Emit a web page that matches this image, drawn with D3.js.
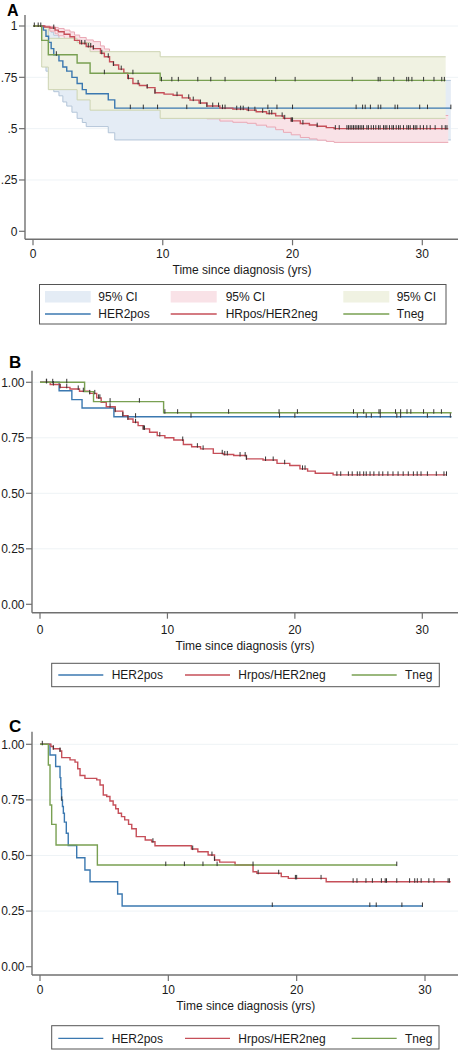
<!DOCTYPE html>
<html><head><meta charset="utf-8">
<script src="https://cdn.jsdelivr.net/npm/d3@7"></script>
<style>
body{margin:0;background:#fff}
svg{display:block}
text{font-family:"Liberation Sans",Arial,Helvetica,sans-serif;fill:#1a1a1a}
</style>
</head><body>
<svg id="chart" width="458" height="1050"></svg>
<script>
// ---------------- DATA ----------------
const xTicks = [0, 10, 20, 30];
const yTicks = [0, 0.25, 0.5, 0.75, 1];
const axisTitle = "Time since diagnosis (yrs)";
const legendA = ["HER2pos", "HRpos/HER2neg", "Tneg"];
const legendBC = ["HER2pos", "Hrpos/HER2neg", "Tneg"];
const ciLabel = "95% CI";

// Panel A - HER2pos
const aHer2Time = [0,0.8,1.0,1.2,1.4,1.6,2.0,2.3,2.6,3.0,3.4,3.8,4.1,5.8,6.3];
const aHer2Surv = [1,0.98,0.95,0.92,0.89,0.86,0.83,0.80,0.78,0.75,0.72,0.69,0.67,0.64,0.60];
const aHer2Lo   = [1,0.86,0.78,0.74,0.71,0.68,0.66,0.63,0.61,0.58,0.55,0.53,0.51,0.48,0.445];
const aHer2Hi   = [1,1,0.995,0.985,0.97,0.955,0.94,0.92,0.905,0.885,0.86,0.84,0.82,0.79,0.735];
const aHer2End = 32.2;
const aHer2Cens = [7.5,8.5,9.6,11.85,18.1,18.8,20.0,24.9,25.4,25.6,26.0,26.6,26.8,27.9,28.1,29.8,30.4,32.2];

// Panel A - HRpos/HER2neg
const aHrTime = [0,0.9,1.3,1.7,1.95,2.4,2.85,3.2,3.6,4.1,4.65,5.2,5.5,5.9,6.2,6.6,7.0,7.3,7.7,8.2,8.8,9.4,10.1,10.8,11.5,12.1,12.8,13.4,14.4,15.4,16.5,17.2,18.0,18.7,19.3,19.9,20.6,21.3,21.9,22.6,23.2];
const aHrSurv = [1,0.995,0.99,0.98,0.972,0.96,0.948,0.93,0.915,0.90,0.89,0.867,0.85,0.826,0.81,0.79,0.77,0.745,0.72,0.71,0.70,0.675,0.668,0.663,0.65,0.639,0.625,0.61,0.60,0.595,0.59,0.582,0.574,0.562,0.55,0.538,0.525,0.518,0.512,0.505,0.50];
const aHrLo = [1,0.985,0.975,0.962,0.952,0.936,0.921,0.9,0.882,0.865,0.852,0.826,0.807,0.78,0.762,0.741,0.719,0.692,0.666,0.655,0.643,0.617,0.61,0.604,0.59,0.578,0.563,0.548,0.537,0.531,0.526,0.517,0.508,0.495,0.482,0.47,0.457,0.45,0.444,0.438,0.433];
const aHrHi = [1,1,0.998,0.993,0.988,0.98,0.971,0.956,0.944,0.932,0.924,0.903,0.888,0.867,0.853,0.835,0.817,0.794,0.771,0.761,0.751,0.728,0.721,0.716,0.704,0.693,0.68,0.666,0.656,0.652,0.647,0.64,0.632,0.621,0.61,0.599,0.587,0.58,0.575,0.568,0.564];
const aHrEnd = 32.0;
const aHrCens = [0.1,0.4,0.6,1.6,3.75,4.0,4.26,4.45,4.65,5.3,5.8,6.2,6.8,7.35,8.1,8.8,9.4,11.1,12.0,12.35,12.9,13.4,13.85,14.3,14.6,14.8,15.7,16.0,16.2,16.6,17.1,17.7,18.2,18.4,19.2,19.4,19.9,20.0,20.8,21.9,23.3,23.6,24.19,24.31,24.44,24.57,24.7,24.83,24.96,25.08,25.21,25.34,25.47,25.73,25.85,26.06,26.24,26.42,26.62,26.75,27.01,27.14,27.27,27.47,27.66,27.78,27.99,28.17,28.3,28.55,28.81,28.94,29.07,29.32,29.45,29.58,29.84,30.09,30.35,30.61,30.99,31.51,31.77,31.9];

// Panel A - Tneg
const aTnTime = [0,0.67,1.18,3.4,4.4,9.8];
const aTnSurv = [1,0.93,0.86,0.82,0.77,0.735];
const aTnLo   = [1,0.80,0.69,0.64,0.59,0.55];
const aTnHi   = [1,0.995,0.94,0.92,0.875,0.85];
const aTnEnd = 31.8;
const aTnCens = [1.8,5.5,7.7,9.9,10.7,11.2,12.7,13.7,14.8,18.7,20.2,24.6,26.6,26.75,27.8,28.8,28.95,29.2,30.1,30.9,31.5,31.7];

// Panel B
const bHer2Time = [0,1.5,2.5,3.3,5.8];
const bHer2Surv = [1,0.962,0.922,0.884,0.845];
const bHer2End = 32.3;
const bHer2Cens = [7.5,11.85,18.8,20.0,24.9,25.6,26.0,26.7,28.0,28.3,30.4,32.2];

const bHrTime = [0,0.8,1.57,2.35,3.1,3.9,4.45,4.8,5.2,5.9,6.5,6.9,7.3,7.7,8.1,8.6,9.2,9.8,10.5,11.25,11.9,12.6,13.6,14.4,15.2,16.2,17.5,18.6,19.6,20.4,21.0,21.6,23.0];
const bHrSurv = [1,0.99,0.977,0.97,0.96,0.95,0.93,0.91,0.89,0.87,0.85,0.835,0.82,0.805,0.79,0.775,0.76,0.75,0.74,0.72,0.71,0.70,0.68,0.675,0.67,0.655,0.65,0.635,0.625,0.61,0.60,0.59,0.583];
const bHrEnd = 31.9;
const bHrCens = [0.52,1.05,1.57,2.1,3.0,3.4,3.9,4.3,4.6,4.7,5.5,5.9,6.5,6.9,7.5,8.1,8.2,9.4,11.2,12.35,12.8,14.3,14.5,14.7,15.7,16.1,16.2,17.7,18.3,19.2,20.6,20.8,23.3,23.6,24.2,24.5,24.9,25.1,25.4,25.6,25.9,26.2,26.6,26.9,27.3,27.7,28.1,28.5,28.9,29.3,29.6,29.9,30.4,31.1,31.7,31.9];

const bTnTime = [0,3.5,4.2,9.7];
const bTnSurv = [1,0.958,0.913,0.863];
const bTnEnd = 32.3;
const bTnCens = [0.5,1.0,2.1,5.5,7.8,9.8,10.8,14.8,18.76,20.2,24.6,25.4,26.6,26.7,27.9,28.3,28.8,29.1,30.1,30.9,31.5];

// Panel C
const cHer2Time = [0,0.78,1.22,1.56,1.62,1.68,1.75,1.82,1.9,2.05,2.2,2.86,3.5,3.9,6.05,6.4];
const cHer2Surv = [1,0.952,0.9,0.85,0.80,0.75,0.72,0.69,0.65,0.60,0.545,0.49,0.435,0.382,0.327,0.273];
const cHer2End = 29.8;
const cHer2Cens = [1.7,18.1,25.7,26.2,28.2,29.8];

const cHrTime = [0,0.85,1.04,1.56,1.69,2.34,2.73,2.94,3.12,3.5,4.42,4.68,4.93,5.2,5.45,5.7,5.9,6.1,6.35,6.6,6.9,7.15,7.5,8.2,8.7,8.96,11.8,12.3,13.1,13.6,14.0,15.2,16.6,16.9,18.8,19.35,22.3];
const cHrSurv = [1,0.99,0.98,0.97,0.94,0.93,0.92,0.89,0.86,0.847,0.84,0.817,0.772,0.765,0.745,0.727,0.71,0.69,0.675,0.66,0.64,0.62,0.585,0.57,0.562,0.544,0.529,0.517,0.502,0.48,0.47,0.457,0.427,0.42,0.405,0.397,0.382];
const cHrEnd = 32.0;
const cHrCens = [0.18,1.04,1.56,8.8,11.9,13.4,13.6,17.0,18.6,19.9,20.0,21.9,24.4,24.7,25.4,25.9,26.6,26.9,27.0,27.8,28.8,29.2,29.4,29.7,30.3,30.7,31.8,31.9];

const cTnTime = [0,0.65,0.78,0.91,1.25,4.47];
const cTnSurv = [1,0.907,0.727,0.64,0.547,0.457];
const cTnEnd = 27.8;
const cTnCens = [9.8,11.25,12.7,13.8,16.6,27.8];

// ---------------- DRAW ----------------
const COL = {blue:'#3b78b0', red:'#c64f59', green:'#79a052'};
const BAND = {
  blue:{fill:'#e4ecf5', stroke:'#b3c5d8'},
  red:{fill:'#f9e2e7', stroke:'#eaa8b5'},
  green:{fill:'#f0f2e2', stroke:'#cdd4b2'}
};
const svg = d3.select('#chart');

function pts(times, vals, end){
  const p = times.map((t,i)=>[t, vals[i]]);
  p.push([end, vals[vals.length-1]]);
  return p;
}
function bandPts(times, lo, hi, end){
  const p = times.map((t,i)=>[t, lo[i], hi[i]]);
  p.push([end, lo[lo.length-1], hi[hi.length-1]]);
  return p;
}
function valAt(times, vals, t){
  let v = vals[0];
  for(let i=0;i<times.length;i++){ if(times[i] <= t) v = vals[i]; }
  return v;
}

function panel(cfg){
  const g = svg.append('g');
  const x = d3.scaleLinear().domain([0,30]).range(cfg.xr);
  const y = d3.scaleLinear().domain([0,1]).range(cfg.yr);

  // faint gridlines
  g.selectAll('.grid').data(yTicks.filter(d=>d>0)).enter().append('line')
    .attr('x1', cfg.axX+1).attr('x2', 458).attr('y1', d=>y(d)).attr('y2', d=>y(d))
    .attr('stroke', '#eef3f6').attr('stroke-width', 1);

  // CI bands
  (cfg.bands||[]).forEach(b=>{
    const data = bandPts(b.t, b.lo, b.hi, b.end);
    const area = d3.area().x(d=>x(d[0])).y0(d=>y(d[1])).y1(d=>y(d[2])).curve(d3.curveStepAfter);
    g.append('path').attr('d', area(data)).attr('fill', BAND[b.c].fill).attr('stroke','none');
    const lLo = d3.line().x(d=>x(d[0])).y(d=>y(d[1])).curve(d3.curveStepAfter);
    const lHi = d3.line().x(d=>x(d[0])).y(d=>y(d[2])).curve(d3.curveStepAfter);
    [lLo, lHi].forEach(l=>g.append('path').attr('d', l(data)).attr('fill','none')
      .attr('stroke', BAND[b.c].stroke).attr('stroke-width', 1));
  });

  // axes
  g.append('line').attr('x1', cfg.axX).attr('x2', cfg.axX).attr('y1', cfg.axTop).attr('y2', cfg.axY)
    .attr('stroke', '#707070').attr('stroke-width', 1.4);
  g.append('line').attr('x1', cfg.axX).attr('x2', 458).attr('y1', cfg.axY).attr('y2', cfg.axY)
    .attr('stroke', '#707070').attr('stroke-width', 1.4);
  yTicks.forEach(v=>{
    g.append('line').attr('x1', cfg.axX-6).attr('x2', cfg.axX).attr('y1', y(v)).attr('y2', y(v))
      .attr('stroke', '#707070').attr('stroke-width', 1.2);
    g.append('text').attr('x', cfg.axX-7.5).attr('y', y(v)+4.3).attr('text-anchor','end')
      .attr('font-size', 12).text(cfg.yfmt(v));
  });
  xTicks.forEach(v=>{
    g.append('line').attr('x1', x(v)).attr('x2', x(v)).attr('y1', cfg.axY).attr('y2', cfg.axY+6)
      .attr('stroke', '#707070').attr('stroke-width', 1.2);
    g.append('text').attr('x', x(v)).attr('y', cfg.xLabY).attr('text-anchor','middle')
      .attr('font-size', 12).text(v);
  });
  g.append('text').attr('x', cfg.titleX).attr('y', cfg.titleY).attr('text-anchor','middle')
    .attr('font-size', 12).text(axisTitle);

  // panel letter
  g.append('text').attr('x', cfg.letterX).attr('y', cfg.letterY).attr('font-size', cfg.letterSize)
    .attr('font-weight','bold').style('fill','#000').text(cfg.letter);

  // curves
  cfg.curves.forEach(c=>{
    const line = d3.line().x(d=>x(d[0])).y(d=>y(d[1])).curve(d3.curveStepAfter);
    g.append('path').attr('d', line(pts(c.t, c.s, c.end))).attr('fill','none')
      .attr('stroke', COL[c.c]).attr('stroke-width', 1.4);
  });
  // censor marks
  cfg.curves.forEach(c=>{
    g.selectAll(null).data(c.cens).enter().append('line')
      .attr('x1', d=>x(d)).attr('x2', d=>x(d))
      .attr('y1', d=>y(valAt(c.t, c.s, d))-3.5).attr('y2', d=>y(valAt(c.t, c.s, d))+1)
      .attr('stroke', '#333').attr('stroke-width', 1);
  });

  // legend
  const L = cfg.legend;
  g.append('rect').attr('x', L.x).attr('y', L.y).attr('width', L.w).attr('height', L.h)
    .attr('fill','#fff').attr('stroke','#555').attr('stroke-width', 1);
  const cols = ['blue','red','green'];
  L.items.forEach((lab,i)=>{
    const [x0,x1,tx] = L.cols[i];
    if(L.ci){
      g.append('rect').attr('x', x0).attr('y', L.ciY).attr('width', x1-x0).attr('height', 11.5)
        .attr('fill', BAND[cols[i]].fill);
      g.append('text').attr('x', tx).attr('y', L.ciTextY).attr('font-size', 12).text(ciLabel);
    }
    g.append('line').attr('x1', x0).attr('x2', x1).attr('y1', L.lineY).attr('y2', L.lineY)
      .attr('stroke', COL[cols[i]]).attr('stroke-width', 1.3);
    g.append('text').attr('x', tx).attr('y', L.textY).attr('font-size', 12).text(lab);
  });
}

const fmtA = v => v===1 ? '1' : v===0 ? '0' : String(v).replace(/^0/, '');
const fmtB = d3.format('.2f');

panel({
  letter:'A', letterX:7, letterY:15.5, letterSize:16,
  xr:[33,422.3], yr:[231.3,26], axX:25, axTop:15, axY:239.3,
  xLabY:257.5, titleX:242, titleY:273.8, yfmt:fmtA,
  bands:[
    {c:'blue', t:aHer2Time, lo:aHer2Lo, hi:aHer2Hi, end:aHer2End},
    {c:'red', t:aHrTime, lo:aHrLo, hi:aHrHi, end:aHrEnd},
    {c:'green', t:aTnTime, lo:aTnLo, hi:aTnHi, end:aTnEnd}
  ],
  curves:[
    {c:'blue', t:aHer2Time, s:aHer2Surv, end:aHer2End, cens:aHer2Cens},
    {c:'red', t:aHrTime, s:aHrSurv, end:aHrEnd, cens:aHrCens},
    {c:'green', t:aTnTime, s:aTnSurv, end:aTnEnd, cens:aTnCens}
  ],
  legend:{x:39.5, y:284.5, w:406.5, h:39.5, ci:true, ciY:291, ciTextY:301, lineY:314, textY:318,
    items:legendA, cols:[[45,90.7,98.3],[170.7,216.7,225.7],[343.3,389.3,396.7]]}
});

panel({
  letter:'B', letterX:9, letterY:367.5, letterSize:17,
  xr:[40,422.3], yr:[604.3,382.3], axX:32, axTop:370.7, axY:612.7,
  xLabY:633.5, titleX:245, titleY:650.3, yfmt:fmtB,
  curves:[
    {c:'blue', t:bHer2Time, s:bHer2Surv, end:bHer2End, cens:bHer2Cens},
    {c:'red', t:bHrTime, s:bHrSurv, end:bHrEnd, cens:bHrCens},
    {c:'green', t:bTnTime, s:bTnSurv, end:bTnEnd, cens:bTnCens}
  ],
  legend:{x:51.7, y:663.3, w:387.6, h:23.4, ci:false, lineY:675, textY:679.2,
    items:legendBC, cols:[[58.3,103.3,111.7],[185,230,238.3],[351.7,396.7,405]]}
});

panel({
  letter:'C', letterX:9, letterY:731.5, letterSize:17,
  xr:[40,425], yr:[966.7,744.3], axX:32, axTop:731.7, axY:975,
  xLabY:993.5, titleX:245.8, titleY:1010.3, yfmt:fmtB,
  curves:[
    {c:'blue', t:cHer2Time, s:cHer2Surv, end:cHer2End, cens:cHer2Cens},
    {c:'red', t:cHrTime, s:cHrSurv, end:cHrEnd, cens:cHrCens},
    {c:'green', t:cTnTime, s:cTnSurv, end:cTnEnd, cens:cTnCens}
  ],
  legend:{x:51.7, y:1025.7, w:387.3, h:23.3, ci:false, lineY:1038.3, textY:1042.5,
    items:legendBC, cols:[[58.3,103.3,111.7],[185,230,238.3],[351.7,396.7,405]]}
});
</script>
</body></html>
